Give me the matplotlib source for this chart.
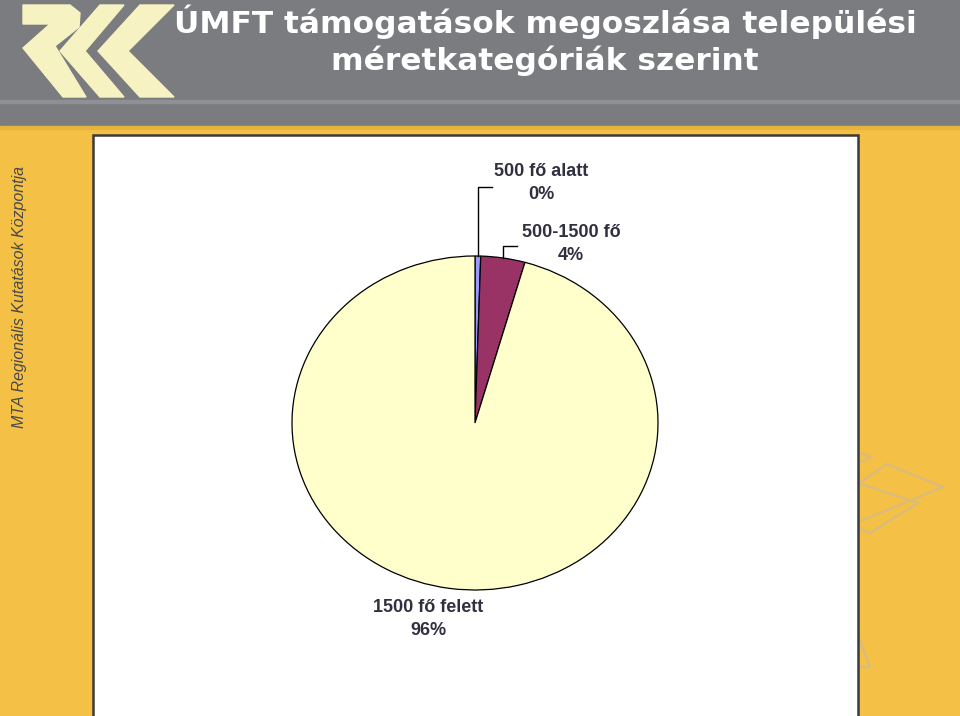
import matplotlib
matplotlib.use("Agg")
import matplotlib.pyplot as plt
from matplotlib.patches import Rectangle, Polygon
import numpy as np

# ---- data ----
categories = ["500 fő alatt", "500-1500 fő", "1500 fő felett"]
values = [0.5, 3.9, 95.6]
pct_labels = ["0%", "4%", "96%"]
colors = ["#9999FF", "#993366", "#FFFFCC"]
title_lines = ["ÚMFT támogatások megoszlása települési", "méretkategóriák szerint"]
side_text = "MTA Regionális Kutatások Központja"

W, H = 960, 716
fig = plt.figure(figsize=(W / 100, H / 100), dpi=100)

# background axes in pixel coordinates
bg = fig.add_axes([0, 0, 1, 1])
bg.set_xlim(0, W)
bg.set_ylim(H, 0)
bg.axis("off")

yellow = "#F4C046"
bg.add_patch(Rectangle((0, 0), W, H, color=yellow, zorder=0))
bg.add_patch(Rectangle((0, 0), W, 128, color="#7A7C7F", zorder=1))
bg.add_patch(Rectangle((0, 100), W, 3, color="#8E9093", zorder=2))
bg.add_patch(Rectangle((0, 126), W, 3, color="#E9B43C", zorder=2))

# decorative faint lines on yellow background (right side)
deco = "#D6BC80"
for pts in [
    [(858, 452), (871, 457), (858, 463)],
    [(858, 484), (887, 464), (943, 487), (858, 522)],
    [(858, 483), (918, 503), (870, 533), (858, 528)],
    [(856, 630), (870, 667), (858, 667)],
]:
    xs, ys = zip(*pts)
    bg.plot(xs, ys, color=deco, lw=1.5, zorder=1)

# logo (cream chevrons)
cream = "#F6F2C2"
logo_shapes = [
    [(23, 5), (70, 5), (80, 13), (79, 27), (55, 46), (86, 97), (63, 97), (23, 48), (50, 24), (23, 24)],
    [(100, 5), (124, 5), (85, 51), (124, 97), (100, 97), (60, 51)],
    [(140, 5), (174, 5), (128, 51), (174, 97), (140, 97), (98, 51)],
]
for shp in logo_shapes:
    bg.add_patch(Polygon(shp, closed=True, color=cream, zorder=3))

# white chart area
bg.add_patch(Rectangle((93, 135), 765, 590, facecolor="white", edgecolor="#3A3A3A", lw=1.8, zorder=2))

# title
bg.text(545, 22, title_lines[0], color="white", fontsize=22.5, fontweight="bold",
        family="DejaVu Sans", ha="center", va="center", zorder=5)
bg.text(545, 61, title_lines[1], color="white", fontsize=22.5, fontweight="bold",
        family="DejaVu Sans", ha="center", va="center", zorder=5)

# side text
bg.text(20, 297, side_text, rotation=90, color="#4A4A4A", fontsize=11.5, style="italic",
        family="Liberation Sans", ha="center", va="center", zorder=5)

# pie axes (slightly elliptical)
cx, cy, rx, ry = 475, 423, 183, 167
ax = fig.add_axes([(cx - rx) / W, (H - cy - ry) / H, 2 * rx / W, 2 * ry / H])
wedges, _ = ax.pie(values, colors=colors, startangle=90, counterclock=False,
                   wedgeprops=dict(edgecolor="black", linewidth=0.9))
ax.set_aspect("auto")
ax.set_xlim(-1, 1)
ax.set_ylim(-1, 1)
ax.axis("off")

def px(x, y):
    return (x - cx) / rx, (cy - y) / ry

lab_color = "#303040"
lab_kw = dict(fontsize=13, fontweight="bold", family="Liberation Sans", color=lab_color,
              ha="center", va="center", linespacing=1.45, clip_on=False)

# label 1 with leader
th = np.deg2rad((wedges[0].theta1 + wedges[0].theta2) / 2)
x0, y0 = np.cos(th), np.sin(th)
ax.plot([x0, x0, px(492, 0)[0]], [y0, px(0, 187)[1], px(0, 187)[1]], color="black", lw=1.0, clip_on=False)
tx, ty = px(541, 183)
ax.text(tx, ty, categories[0] + "\n" + pct_labels[0], **lab_kw)

# label 2 with leader
th = np.deg2rad((wedges[1].theta1 + wedges[1].theta2) / 2)
x1, y1 = np.cos(th), np.sin(th)
ax.plot([x1, x1, px(517, 0)[0]], [y1, px(0, 246)[1], px(0, 246)[1]], color="black", lw=1.0, clip_on=False)
tx, ty = px(571, 244)
ax.text(tx, ty, categories[1] + "\n" + pct_labels[1], **lab_kw)

# label 3
tx, ty = px(428, 619)
ax.text(tx, ty, categories[2] + "\n" + pct_labels[2], **lab_kw)

fig.savefig("out.png", dpi=100)
